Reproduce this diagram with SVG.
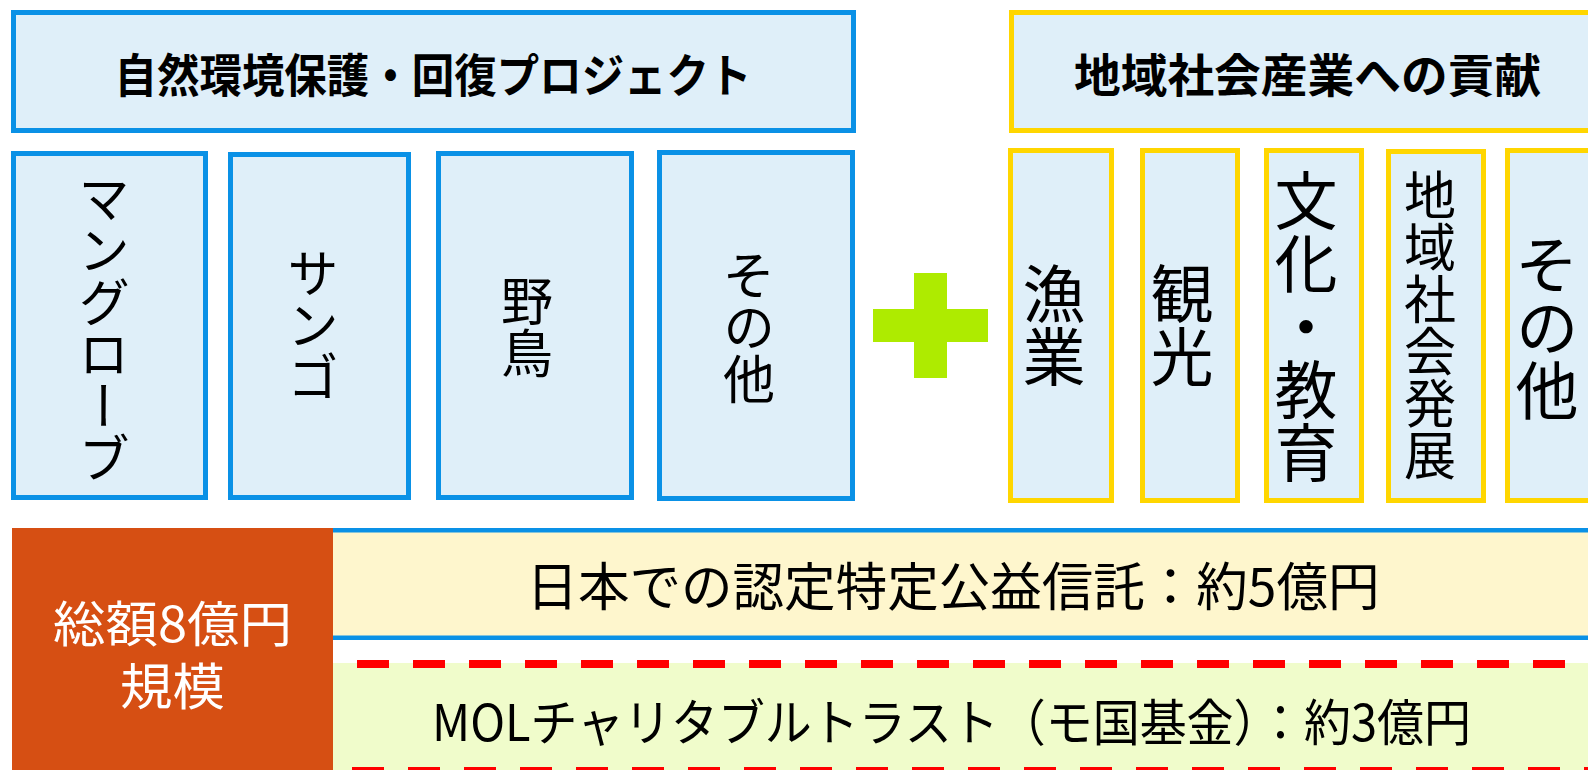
<svg xmlns="http://www.w3.org/2000/svg" width="1588" height="770" viewBox="0 0 1588 770">
<style>
  text { font-family: "Noto Sans CJK JP", "Noto Sans", sans-serif; fill: #000; }
  .bx { fill: #DFEFF9; stroke: #0A91E6; stroke-width: 5; }
  .yx { fill: #DFEFF9; stroke: #FFD600; stroke-width: 5; }
  .hd { font-weight: bold; font-size: 46px; text-anchor: middle; dominant-baseline: central; }
  .vt { writing-mode: vertical-rl; text-anchor: middle; dominant-baseline: central; }
  .v52 { font-size: 52px; }
  .v63 { font-size: 63px; }
  .band { font-size: 52px; text-anchor: middle; dominant-baseline: central; }
  .dash { stroke: #FF0000; stroke-width: 8; stroke-dasharray: 32 24; fill: none; }
  .wt { fill: #FFFFFF; text-anchor: middle; dominant-baseline: central; }
</style>
<rect width="1588" height="770" fill="#FFFFFF"/>

<g id="header-nature">
  <rect class="bx" x="13.5" y="12.5" width="840" height="118"/>
  <text class="hd" x="433" y="71.5" textLength="637" lengthAdjust="spacingAndGlyphs">自然環境保護・回復プロジェクト</text>
</g>
<g id="header-community">
  <rect class="yx" x="1011.5" y="12.5" width="600" height="118"/>
  <text class="hd" x="1307.5" y="71.5" textLength="467" lengthAdjust="spacingAndGlyphs">地域社会産業への貢献</text>
</g>

<g id="col-mangrove">
  <rect class="bx" x="13.5" y="153.5" width="192" height="344"/>
  <text class="vt v52" x="104" y="328">マングローブ</text>
</g>
<g id="col-coral">
  <rect class="bx" x="230.5" y="154.5" width="178" height="343"/>
  <text class="vt v52" x="313" y="325">サンゴ</text>
</g>
<g id="col-birds">
  <rect class="bx" x="438.5" y="153.5" width="193" height="344"/>
  <text class="vt v52" x="527" y="327">野鳥</text>
</g>
<g id="col-other-nature">
  <rect class="bx" x="659.5" y="152.5" width="193" height="346"/>
  <text class="vt v52" x="749" y="327">その他</text>
</g>

<g id="plus">
  <rect x="914" y="273" width="33" height="105" fill="#AEEB00"/>
  <rect x="873" y="309" width="115" height="33" fill="#AEEB00"/>
</g>

<g id="col-fishery">
  <rect class="yx" x="1010.5" y="150.5" width="101" height="350"/>
  <text class="vt v63" x="1054" y="325">漁業</text>
</g>
<g id="col-tourism">
  <rect class="yx" x="1142.5" y="150.5" width="95" height="350"/>
  <text class="vt v63" x="1182" y="325">観光</text>
</g>
<g id="col-culture">
  <rect class="yx" x="1266.5" y="150.5" width="95" height="350"/>
  <text class="vt v63" x="1306" y="326">文化・教育</text>
</g>
<g id="col-local">
  <rect class="yx" x="1388.5" y="151.5" width="95" height="349"/>
  <text class="vt v52" x="1430" y="325">地域社会発展</text>
</g>
<g id="col-other-community">
  <rect class="yx" x="1507.5" y="150.5" width="110" height="350"/>
  <text class="vt v63" x="1547" y="327">その他</text>
</g>

<g id="band-trust">
  <rect x="302" y="530.25" width="1300" height="107.5" fill="#FEF6CD" stroke="#0A91E6" stroke-width="4.5"/>
  <text class="band" x="953" y="583.5" textLength="853" lengthAdjust="spacingAndGlyphs">日本での認定特定公益信託：約5億円</text>
</g>
<g id="band-mol">
  <rect x="333" y="663" width="1255" height="107" fill="#F0FCCB"/>
  <line class="dash" x1="357" y1="664" x2="1588" y2="664"/>
  <line class="dash" x1="352" y1="771" x2="1588" y2="771"/>
  <text class="band" x="951.5" y="718.5" style="font-size:50px" textLength="1039" lengthAdjust="spacingAndGlyphs">MOLチャリタブルトラスト（モ国基金）：約3億円</text>
</g>

<g id="total">
  <rect x="12" y="528" width="321" height="242" fill="#D64F13"/>
  <text class="wt" x="172.5" y="620" style="font-size:49px" textLength="239" lengthAdjust="spacingAndGlyphs">総額8億円</text>
  <text class="wt" x="172.5" y="683" style="font-size:50px" textLength="105" lengthAdjust="spacingAndGlyphs">規模</text>
</g>
</svg>
